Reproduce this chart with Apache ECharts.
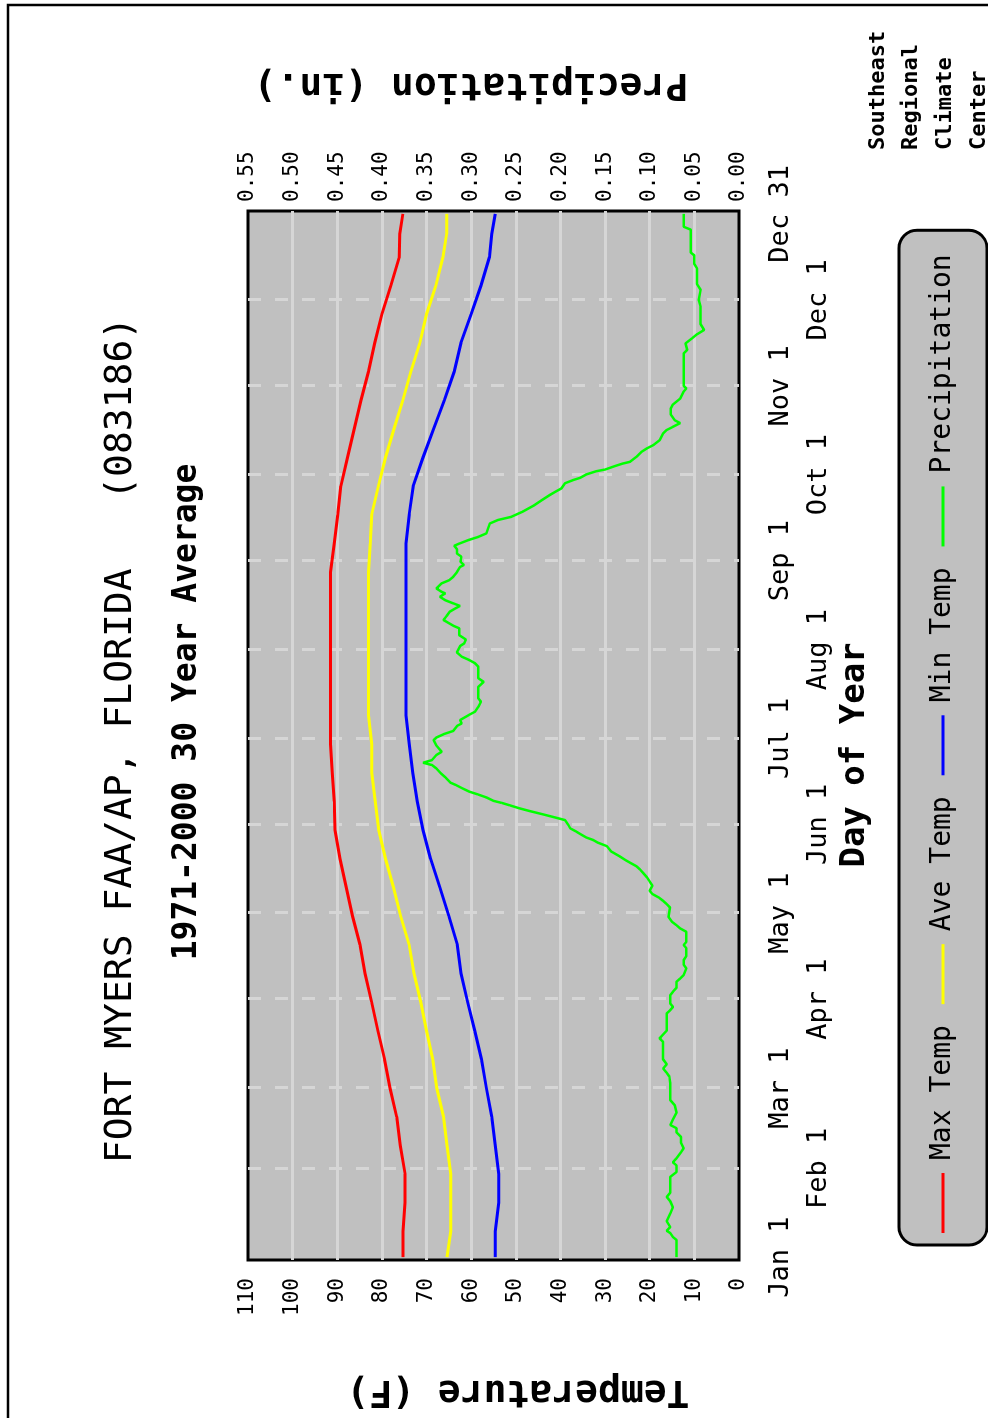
<!DOCTYPE html>
<html>
<head>
<meta charset="utf-8">
<title>Fort Myers FAA/AP - 1971-2000 30 Year Average</title>
<script src="https://cdn.jsdelivr.net/npm/echarts@6/dist/echarts.min.js"></script>
<style>
    html, body { margin: 0; padding: 0; background: #fff; overflow: hidden; }
    body { width: 988px; height: 1418px; position: relative; }
    /* chart is laid out landscape, then turned a quarter to the left like the printout */
    #climateChart {
        position: absolute; left: 0; top: 0;
        width: 1418px; height: 988px;
        transform-origin: 0 0;
        transform: translate(0, 1418px) rotate(-90deg);
    }
</style>
</head>
<body>
<div id="climateChart"></div>
<script>
// day of year ticks and their labels
var dayTicks = [1, 32, 60, 91, 121, 152, 182, 213, 244, 274, 305, 335, 365];
var dayNames = ['Jan 1', 'Feb 1', 'Mar 1', 'Apr 1', 'May 1', 'Jun 1', 'Jul 1',
    'Aug 1', 'Sep 1', 'Oct 1', 'Nov 1', 'Dec 1', 'Dec 31'];

// temperatures (F)
var tempDays = [1, 10, 20, 30, 40, 50, 60, 70, 80, 90, 100, 110, 120, 130, 140, 150, 160, 170, 180,
    190, 200, 210, 220, 230, 240, 250, 260, 270, 280, 290, 300, 310, 320, 330, 340, 350, 358, 365];
var maxTemp = [75.3, 75.3, 74.8, 74.8, 75.9, 76.7, 78.2, 79.4, 80.9, 82.3, 83.8, 84.9, 86.6, 88.0, 89.4, 90.5, 90.7, 91.1, 91.5,
    91.5, 91.5, 91.5, 91.5, 91.5, 91.5, 90.7, 89.9, 89.2, 87.7, 86.2, 84.7, 83.0, 81.6, 80.0, 78.0, 76.1, 76.0, 75.3];
var aveTemp = [65.4, 64.6, 64.6, 64.6, 65.4, 66.2, 67.7, 68.6, 70.0, 71.3, 72.8, 73.9, 75.8, 77.4, 79.2, 80.7, 81.5, 82.3, 82.3,
    83.0, 83.0, 83.0, 83.0, 83.0, 83.0, 82.6, 82.3, 80.8, 79.2, 77.3, 75.3, 73.5, 71.5, 70.0, 67.9, 66.3, 65.5, 65.5];
var minTemp = [54.6, 54.6, 53.8, 53.8, 54.6, 55.4, 56.6, 57.7, 59.2, 60.8, 62.3, 63.1, 65.0, 67.0, 69.1, 70.8, 72.1, 73.1, 73.9,
    74.6, 74.6, 74.6, 74.6, 74.6, 74.6, 74.6, 73.9, 73.0, 70.8, 68.4, 66.0, 63.8, 62.3, 60.0, 57.8, 55.9, 55.4, 54.6];

// precipitation (in.), [day, value]
var precipPoints = [
    [1, 0.070], [7, 0.070], [8, 0.074], [9.4, 0.077], [10.2, 0.081], [11.5, 0.077], [13.5, 0.081],
    [16.5, 0.0765], [18.4, 0.074], [20.5, 0.077], [22, 0.081], [23.5, 0.077], [29, 0.077], [30.7, 0.070],
    [33, 0.070], [34.1, 0.074], [35.5, 0.070], [37.6, 0.065], [39, 0.062], [41, 0.065], [43, 0.065],
    [44.5, 0.070], [46, 0.070], [47.1, 0.077], [49, 0.074], [51.5, 0.070], [54, 0.072], [55.8, 0.077],
    [61.7, 0.077], [64, 0.078], [65.3, 0.081], [66.8, 0.085], [68.3, 0.081], [70, 0.085], [76.1, 0.085],
    [77.3, 0.089], [78.5, 0.0855], [80, 0.081], [86, 0.081], [87.2, 0.077], [88.3, 0.074], [89.5, 0.077],
    [92.4, 0.077], [93.6, 0.074], [95, 0.070], [97.1, 0.070], [98.2, 0.066], [99.4, 0.062], [101.8, 0.059],
    [103, 0.062], [104.6, 0.062], [106, 0.059], [108.8, 0.059], [109.9, 0.062], [111, 0.059], [114.5, 0.059],
    [115.7, 0.066], [116.8, 0.070], [118, 0.075], [119.7, 0.079], [123, 0.0773], [124.2, 0.081], [125.3, 0.085],
    [126.5, 0.090], [127.7, 0.097], [128.8, 0.100], [130.6, 0.097], [132.3, 0.1005], [133.5, 0.103],
    [134.9, 0.107], [136.3, 0.111], [137.4, 0.115], [138.6, 0.122], [139.5, 0.127], [140.7, 0.133],
    [142.5, 0.143], [144.4, 0.148], [145.6, 0.158], [146.5, 0.163], [147.4, 0.171], [148.5, 0.177],
    [149.6, 0.183], [150.6, 0.189], [151.7, 0.191], [153.5, 0.195], [154.4, 0.206], [155.6, 0.221],
    [156.6, 0.234], [157.6, 0.246], [158.6, 0.2565], [159.5, 0.266], [160.2, 0.275], [161.4, 0.283],
    [162.5, 0.293], [163.4, 0.302], [164.5, 0.3095], [165.7, 0.317], [166.5, 0.323], [168.4, 0.329],
    [169.8, 0.334], [171.5, 0.339], [172.7, 0.344], [173.5, 0.354], [174.4, 0.344], [176.2, 0.339],
    [177.3, 0.333], [179.5, 0.339], [181.4, 0.342], [182.3, 0.339], [183.5, 0.3305], [184.6, 0.320],
    [186.4, 0.3156], [187.2, 0.3106], [188.4, 0.3125], [190.1, 0.303], [191.3, 0.2957], [193, 0.292],
    [194.8, 0.289], [196, 0.292], [200, 0.292], [201.7, 0.286], [203, 0.292], [207, 0.292], [208.2, 0.2957],
    [209.3, 0.302], [210.5, 0.3106], [212, 0.316], [214.2, 0.3125], [215.1, 0.308], [216.5, 0.306],
    [218, 0.3133], [220.4, 0.3133], [221.3, 0.320], [222.3, 0.3256], [223.3, 0.331], [224.7, 0.3275],
    [226.2, 0.324], [227.3, 0.318], [228.2, 0.3125], [229.1, 0.320], [230.2, 0.329], [231.4, 0.335],
    [232.6, 0.329], [233.1, 0.333], [234.3, 0.339], [236.1, 0.333], [237.2, 0.3245], [238.4, 0.320],
    [240, 0.316], [241.8, 0.3125], [242.5, 0.308], [243.6, 0.312], [245.4, 0.311], [246.5, 0.316],
    [248, 0.316], [249.2, 0.319], [250, 0.313], [251.2, 0.303], [252.3, 0.292], [253.5, 0.283],
    [255.3, 0.281], [257, 0.279], [258.2, 0.270], [259.3, 0.255], [261, 0.243], [262.2, 0.236],
    [263.4, 0.229], [265.1, 0.221], [266.9, 0.212], [268, 0.206], [269.2, 0.199], [271, 0.195],
    [272.1, 0.186], [272.9, 0.178], [274.1, 0.171], [275.2, 0.160], [275.8, 0.150], [277, 0.139],
    [277.9, 0.130], [278.5, 0.122], [280.2, 0.115], [282, 0.109], [283.2, 0.103], [284.3, 0.096],
    [286, 0.089], [288.4, 0.085], [289.6, 0.081], [290.7, 0.074], [292, 0.066], [293, 0.072],
    [295, 0.0765], [297, 0.0765], [298.5, 0.074], [300.5, 0.066], [303, 0.062], [304.1, 0.059],
    [305, 0.062], [316.3, 0.062], [317.5, 0.058], [319.8, 0.060], [321.5, 0.053], [323, 0.047],
    [324.5, 0.039], [326.5, 0.043], [332.6, 0.043], [335, 0.045], [338.5, 0.043], [340.5, 0.047],
    [346, 0.047], [347.5, 0.050], [350.5, 0.050], [351.5, 0.054], [359.5, 0.054], [360.5, 0.062],
    [365, 0.062]
];

var climateChart = (function() {
    var MONO = '"DejaVu Sans Mono", monospace';
    var GRID_LINE = '#d6d6d6';

    function pairs(days, values) {
        return days.map(function(d, i) {
            return [d, values[i]];
        });
    }

    /**
     * text drawn straight on the canvas (titles, axis names, credit)
     */
    function label(text, x, y, font, rotation, align) {
        return {
            type: 'text',
            x: x,
            y: y,
            rotation: rotation || 0,
            silent: true,
            style: {
                text: text,
                font: font,
                fill: '#000',
                textAlign: align || 'center',
                textVerticalAlign: 'middle'
            }
        };
    }

    function lineSeries(name, data, color, width, axisIndex) {
        return {
            name: name,
            type: 'line',
            xAxisIndex: 0,
            yAxisIndex: axisIndex,
            data: data,
            showSymbol: false,
            symbol: 'none',
            lineStyle: { color: color, width: width },
            itemStyle: { color: color }
        };
    }

    function dayLabel(value) {
        var i = dayTicks.indexOf(value);
        return i < 0 ? '' : dayNames[i];
    }

    /**
     * day axis; the labels alternate between two rows, so each row gets its own axis
     */
    function dayAxis(row) {
        var values = dayTicks.filter(function(d, i) {
            return i % 2 === row;
        });
        return {
            type: 'value',
            position: 'bottom',
            offset: row * 38,
            min: 0,
            max: 366,
            axisLine: { show: false },
            axisTick: { show: false, customValues: dayTicks.slice(1, -1) },
            splitLine: {
                show: row === 0,
                lineStyle: { color: GRID_LINE, width: 3, type: [13, 14] }
            },
            axisLabel: {
                customValues: values,
                margin: 28,
                color: '#000',
                fontFamily: MONO,
                fontSize: 27,
                formatter: dayLabel
            }
        };
    }

    function buildOption() {
        return {
            animation: false,
            backgroundColor: '#fff',
            grid: {
                left: 158, top: 248, width: 1049, height: 491,
                show: true,
                backgroundColor: '#c0c0c0',
                borderColor: '#000',
                borderWidth: 3,
                containLabel: false,
                outerBoundsMode: 'none'
            },
            legend: {
                left: 173, top: 899,
                orient: 'horizontal',
                padding: [30, 24, 30, 12],
                icon: 'rect',
                itemWidth: 60,
                itemHeight: 3,
                itemGap: 21,
                backgroundColor: '#c0c0c0',
                borderColor: '#000',
                borderWidth: 3,
                borderRadius: 18,
                textStyle: { color: '#000', fontFamily: MONO, fontSize: 28, lineHeight: 28, padding: [0, 0, 0, 8] },
                data: ['Max Temp', 'Ave Temp', 'Min Temp', 'Precipitation']
            },
            xAxis: [dayAxis(0), dayAxis(1)],
            yAxis: [{
                type: 'value',
                position: 'left',
                min: 0, max: 110, interval: 10,
                axisLine: { show: false },
                axisTick: { show: false },
                splitLine: { show: true, showMinLine: false, showMaxLine: false, lineStyle: { color: GRID_LINE, width: 3 } },
                axisLabel: { color: '#000', fontFamily: MONO, fontSize: 21, margin: 18 }
            }, {
                type: 'value',
                position: 'right',
                min: 0, max: 0.55, interval: 0.05,
                axisLine: { show: false },
                axisTick: { show: false },
                splitLine: { show: false },
                axisLabel: {
                    color: '#000', fontFamily: MONO, fontSize: 21, margin: 9,
                    formatter: function(v) { return v.toFixed(2); }
                }
            }],
            graphic: [
                // page frame, only top and right edges fall inside the picture
                {
                    type: 'rect', silent: true,
                    shape: { x: -10, y: 8, width: 1423, height: 1000 },
                    style: { fill: 'none', stroke: '#000', lineWidth: 2.5 }
                },
                label('FORT MYERS FAA/AP, FLORIDA   (083186)', 678, 121, '38px ' + MONO),
                label('1971-2000 30 Year Average', 706, 187, 'bold 33px ' + MONO),
                label('Temperature (F)', 27, 518, 'bold 38px ' + MONO, Math.PI / 2),
                label('Precipitation (in.)', 1334, 471, 'bold 38px ' + MONO, Math.PI / 2),
                label('Day of Year', 663, 855, 'bold 34px ' + MONO),
                label('Southeast', 1268, 878, 'bold 22px ' + MONO, 0, 'left'),
                label('Regional', 1268, 911, 'bold 22px ' + MONO, 0, 'left'),
                label('Climate', 1268, 945, 'bold 22px ' + MONO, 0, 'left'),
                label('Center', 1268, 979, 'bold 22px ' + MONO, 0, 'left')
            ],
            series: [
                lineSeries('Max Temp', pairs(tempDays, maxTemp), '#ff0000', 3, 0),
                lineSeries('Ave Temp', pairs(tempDays, aveTemp), '#ffff00', 3, 0),
                lineSeries('Min Temp', pairs(tempDays, minTemp), '#0000ff', 3, 0),
                lineSeries('Precipitation', precipPoints, '#00ff00', 2.5, 1)
            ]
        };
    }

    var chartEle = document.getElementById('climateChart');
    var myChart = echarts.init(chartEle);
    myChart.setOption(buildOption(), true);

    return {
        chart: myChart
    };
})();
</script>
</body>
</html>
